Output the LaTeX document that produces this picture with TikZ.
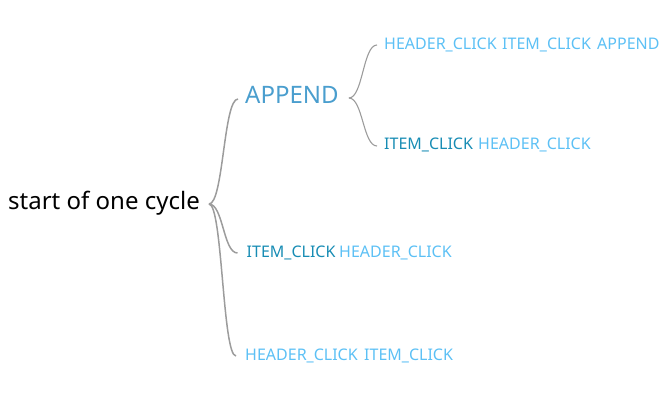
\documentclass[tikz,border=0pt]{standalone}
\usepackage{fontspec}
\setmainfont{Noto Sans}
\usetikzlibrary{calc}
\definecolor{appendc}{HTML}{4A9ECE}
\definecolor{darkc}{HTML}{178CB4}
\definecolor{lightc}{HTML}{5CC0F5}
\definecolor{linegray}{HTML}{9C9C9C}
\tikzset{
  word/.style={anchor=base west, inner sep=0pt, font=\fontsize{16}{19}\selectfont},
  lw/.style={word, text=lightc},
  dw/.style={word, text=darkc},
  conn/.style={draw=linegray, line width=1.1pt},
  thickconn/.style={draw=linegray, line width=1.5pt},
}
\newcommand\bracecurve[3]{%
  \draw[#3] let \p1=(#1), \p2=(#2) in
    (\p1) .. controls ({(\x1+\x2)/2},\y1) and ({(\x1+\x2)/2},\y2) .. (\p2);}
\begin{document}
\begin{tikzpicture}[x=1pt,y=-1pt]
\useasboundingbox (0,0) rectangle (664,412);
% root
\node[anchor=base west, inner sep=0pt, font=\fontsize{24}{28}\selectfont] (root) at (8,209) {start of one cycle};
\coordinate (rb) at ($(root.base east)+(9,-5)$);
% APPEND
\node[anchor=base west, inner sep=0pt, text=appendc, font=\fontsize{24}{28}\selectfont] (app) at (245,103) {APPEND};
\coordinate (ab) at ($(app.base east)+(10,-5)$);
% children of APPEND
\node[lw] (c1a) at (384,49) {HEADER\_CLICK};
\node[lw] (c1b) at (502,49) {ITEM\_CLICK};
\node[lw] (c1c) at (597,49) {APPEND};
\node[dw] (c2a) at (384,149) {ITEM\_CLICK};
\node[lw] (c2b) at (478,149) {HEADER\_CLICK};
% children of root
\node[dw] (c3a) at (246.5,257) {ITEM\_CLICK};
\node[lw] (c3b) at (339,257) {HEADER\_CLICK};
\node[lw] (c4a) at (245,360) {HEADER\_CLICK};
\node[lw] (c4b) at (364,360) {ITEM\_CLICK};
% connectors
\bracecurve{rb}{$(app.base west)+(-7,-4)$}{thickconn}
\bracecurve{rb}{$(c3a.base west)+(-9,-4)$}{thickconn}
\bracecurve{rb}{$(c4a.base west)+(-9,-4)$}{thickconn}
\bracecurve{ab}{$(c1a.base west)+(-7,-4)$}{conn}
\bracecurve{ab}{$(c2a.base west)+(-7,-3)$}{conn}
\end{tikzpicture}
\end{document}
